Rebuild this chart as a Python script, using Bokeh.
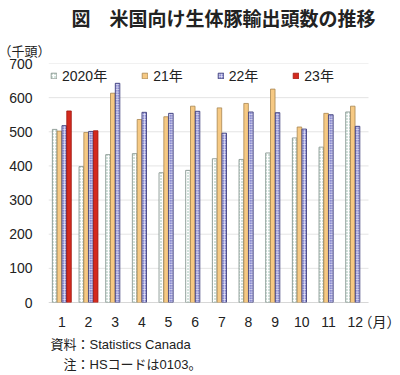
from bokeh.plotting import figure
from bokeh.models import ColumnDataSource, Range1d, Legend, LegendItem, FixedTicker, Title
from bokeh.transform import dodge
from bokeh.embed import file_html
from bokeh.resources import INLINE

months = list(range(1, 13))
month_labels = [str(m) for m in months]
y2020 = [507, 398, 433, 436, 380, 387, 421, 419, 438, 482, 455, 558]
y2021 = [502, 498, 613, 536, 544, 575, 570, 583, 625, 514, 554, 575]
y2022 = [518, 501, 642, 557, 554, 560, 496, 558, 556, 508, 550, 516]
y2023_months = [1, 2]
y2023 = [561, 503]
series_names = ["2020年", "21年", "22年", "23年"]
y_ticks = [0, 100, 200, 300, 400, 500, 600, 700]
unit_x = "（月）"
unit_y = "（千頭）"
title_text = "図　米国向け生体豚輸出頭数の推移"
notes = ["資料：Statistics Canada", "注：HSコードは0103。"]

FONT = "Liberation Sans, Noto Sans CJK JP"
TXT = "#222222"

src = ColumnDataSource(dict(m=months, a=y2020, b=y2021, c=y2022))
src23 = ColumnDataSource(dict(m=y2023_months, d=y2023))
grid_src = ColumnDataSource(dict(y=y_ticks, x0=[0.5] * len(y_ticks), x1=[12.5] * len(y_ticks)))

p = figure(width=400, height=375, output_backend="svg", toolbar_location=None,
           x_range=Range1d(0.5, 13.625), y_range=Range1d(0, 700),
           min_border_left=48, min_border_right=2, min_border_top=1, min_border_bottom=73)
p.outline_line_color = None
p.background_fill_color = "white"
p.border_fill_color = "white"
p.xgrid.grid_line_color = None
p.ygrid.grid_line_color = None

# horizontal gridlines limited to the month span
p.segment(x0="x0", x1="x1", y0="y", y1="y", source=grid_src, line_color="#E4E4E4", line_width=1)
p.segment(x0=[0.5], x1=[12.5], y0=[0], y1=[0], line_color="#BDBDBD", line_width=1)

w = 0.17
r1 = p.vbar(x=dodge("m", -0.27, range=p.x_range), top="a", width=w, source=src,
            fill_color="#FFFFFF", hatch_pattern="dot", hatch_color="#8FB5A5", hatch_scale=3,
            line_color="#7A8A84", line_width=0.8)
r2 = p.vbar(x=dodge("m", -0.09, range=p.x_range), top="b", width=w, source=src,
            fill_color="#F6C983", line_color="#A88650", line_width=0.8)
r3 = p.vbar(x=dodge("m", 0.09, range=p.x_range), top="c", width=w, source=src,
            fill_color="#8A8AD0", hatch_pattern="cross", hatch_color="#FFFFFF", hatch_scale=2.5,
            hatch_weight=0.6, line_color="#2E2E70", line_width=0.8)
r4 = p.vbar(x=dodge("m", 0.27, range=p.x_range), top="d", width=w, source=src23,
            fill_color="#D42A1E", line_color="#A01810", line_width=0.8)

legend = Legend(items=[LegendItem(label=series_names[i], renderers=[r]) for i, r in enumerate([r1, r2, r3, r4])],
                orientation="horizontal", location="top_left")
legend.label_text_font = FONT
legend.label_text_font_size = "14px"
legend.label_text_color = TXT
legend.glyph_width = 7
legend.glyph_height = 7
legend.label_standoff = 5
legend.spacing = 34
legend.margin = 2
legend.padding = 2
legend.border_line_color = None
legend.background_fill_alpha = 0
p.add_layout(legend)

xt = months + [13.06]
p.xaxis.ticker = FixedTicker(ticks=xt)
p.xaxis.major_label_overrides = {**{m: l for m, l in zip(months, month_labels)}, 13.06: unit_x}
p.yaxis.ticker = FixedTicker(ticks=y_ticks)
for ax in (p.xaxis, p.yaxis):
    ax.major_tick_line_color = None
    ax.minor_tick_line_color = None
    ax.axis_line_color = None
    ax.major_label_text_font = FONT
    ax.major_label_text_font_size = "14px"
    ax.major_label_text_color = TXT
p.yaxis.major_label_standoff = 10
p.xaxis.major_label_standoff = 5

p.title.text = title_text
p.title.align = "center"
p.title.text_font = FONT
p.title.text_font_size = "19px"
p.title.text_font_style = "bold"
p.title.text_color = TXT
p.title.standoff = 13

p.add_layout(Title(text=unit_y, align="left", offset=-50, text_font=FONT, text_font_size="13px",
                   text_font_style="normal", text_color=TXT, standoff=10), "above")

note_standoffs = [5, 0]
for i, n in enumerate(notes):
    p.add_layout(Title(text=n, align="left", offset=2 + 13 * i, text_font=FONT, text_font_size="13px",
                       text_font_style="normal", text_color=TXT, standoff=note_standoffs[i]), "below")

open("out.html", "w").write(file_html(p, INLINE))
